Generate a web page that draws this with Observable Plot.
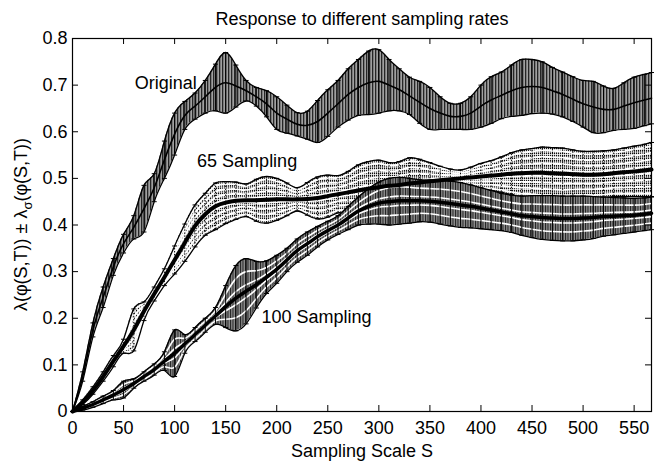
<!DOCTYPE html>
<html><head><meta charset="utf-8">
<script src="https://cdn.jsdelivr.net/npm/d3@7"></script>
<script src="https://cdn.jsdelivr.net/npm/@observablehq/plot@0.6"></script>
<style>
body{margin:0;background:#fff}
svg{font-family:"Liberation Sans",Arial,Helvetica,sans-serif}
</style>
</head><body><div id="chart"></div>
<script>
// Sampling scale S (sample positions)
const xs = [0,10,20,30,40,50,60,70,80,90,100,110,120,130,140,150,160,170,180,190,200,210,220,230,240,250,260,270,280,290,300,310,320,330,340,350,360,370,380,390,400,410,420,430,440,450,460,470,480,490,500,510,520,530,540,550,560,567];

// Original
const origMean = [0,0.075,0.175,0.245,0.31,0.36,0.395,0.435,0.48,0.54,0.595,0.635,0.655,0.675,0.695,0.705,0.698,0.688,0.675,0.66,0.64,0.627,0.616,0.614,0.622,0.64,0.66,0.68,0.695,0.705,0.708,0.70,0.69,0.677,0.663,0.65,0.64,0.633,0.633,0.64,0.655,0.668,0.678,0.688,0.695,0.697,0.695,0.688,0.68,0.67,0.66,0.653,0.648,0.648,0.655,0.662,0.668,0.672];
const origSd = [0,0.01,0.015,0.022,0.018,0.02,0.025,0.05,0.03,0.04,0.045,0.03,0.028,0.035,0.05,0.065,0.045,0.022,0.02,0.028,0.035,0.03,0.025,0.03,0.045,0.05,0.05,0.055,0.06,0.068,0.068,0.055,0.045,0.04,0.045,0.045,0.035,0.028,0.028,0.035,0.045,0.05,0.05,0.055,0.06,0.058,0.055,0.05,0.048,0.048,0.05,0.055,0.05,0.045,0.05,0.055,0.055,0.055];

// 65 Sampling
const s65Mean = [0,0.02,0.045,0.075,0.108,0.14,0.175,0.215,0.252,0.288,0.325,0.362,0.398,0.423,0.44,0.448,0.452,0.453,0.453,0.454,0.455,0.455,0.455,0.456,0.458,0.462,0.466,0.47,0.474,0.478,0.481,0.484,0.486,0.489,0.491,0.494,0.496,0.498,0.50,0.502,0.504,0.506,0.508,0.51,0.511,0.512,0.512,0.511,0.51,0.509,0.508,0.508,0.509,0.511,0.513,0.515,0.517,0.519];
const s65Sd = [0,0.005,0.008,0.01,0.012,0.015,0.045,0.02,0.015,0.018,0.03,0.04,0.045,0.045,0.05,0.045,0.04,0.035,0.045,0.05,0.045,0.035,0.025,0.035,0.045,0.045,0.04,0.045,0.055,0.058,0.058,0.05,0.05,0.055,0.05,0.04,0.03,0.022,0.018,0.022,0.028,0.032,0.038,0.045,0.05,0.052,0.055,0.055,0.055,0.052,0.05,0.05,0.05,0.05,0.052,0.054,0.056,0.058];

// 100 Sampling
const s100Mean = [0,0.007,0.015,0.025,0.035,0.047,0.06,0.075,0.09,0.108,0.125,0.145,0.165,0.185,0.205,0.225,0.243,0.258,0.272,0.288,0.305,0.325,0.345,0.36,0.375,0.388,0.40,0.415,0.43,0.44,0.447,0.45,0.452,0.452,0.452,0.451,0.449,0.446,0.443,0.44,0.436,0.432,0.428,0.424,0.42,0.418,0.416,0.415,0.414,0.414,0.415,0.416,0.418,0.419,0.42,0.421,0.423,0.425];
const s100Sd = [0,0.004,0.006,0.008,0.01,0.018,0.01,0.01,0.012,0.02,0.05,0.02,0.015,0.015,0.018,0.045,0.07,0.07,0.05,0.035,0.03,0.025,0.025,0.025,0.022,0.02,0.02,0.025,0.03,0.038,0.045,0.05,0.05,0.048,0.045,0.045,0.047,0.048,0.048,0.046,0.044,0.042,0.04,0.04,0.042,0.045,0.047,0.048,0.048,0.048,0.047,0.045,0.042,0.04,0.038,0.036,0.035,0.035];

const xTicks = [0,50,100,150,200,250,300,350,400,450,500,550];
const yTicks = [0,0.1,0.2,0.3,0.4,0.5,0.6,0.7,0.8];
const seriesNames = ["Original","65 Sampling","100 Sampling"];
const labelX = [61, 122, 185];
const labelY = [0.705, 0.536, 0.202];
const titleText = "Response to different sampling rates";
const xLabel = "Sampling Scale S";

const W = 660, H = 462, mL = 72, mR = 9, mT = 38, mB = 51;
const frameW = W - mL - mR, frameH = H - mT - mB;

const rows = (name, m, s) => xs.map((x, i) => ({series: name, x, mean: m[i], lo: m[i] - s[i], hi: m[i] + s[i], sd: s[i]}));
const orig = rows(seriesNames[0], origMean, origSd);
const r65 = rows(seriesNames[1], s65Mean, s65Sd);
const r100 = rows(seriesNames[2], s100Mean, s100Sd);
const labels = seriesNames.map((t, i) => ({t, x: labelX[i], y: labelY[i]}));

const stripes = (data, fracs) => fracs.flatMap(f => data.map(d => ({x: d.x, y: d.mean + f * d.sd, f})));
const st65 = stripes(r65, [-0.875,-0.625,-0.375,-0.125,0.125,0.375,0.625,0.875]);
const st100 = stripes(r100, [-0.6,-0.2,0.2,0.6]);

const cap = {draw(ctx, size) { const w = Math.sqrt(size / Math.PI); ctx.moveTo(-w, 0); ctx.lineTo(w, 0); }};
const cur = "natural";

function bandMarks(data, opts) {
  return [
    Plot.areaY(data, {x: "x", y1: "lo", y2: "hi", fill: opts.fill, curve: cur}),
    opts.stripes ? Plot.line(opts.stripes, {x: "x", y: "y", z: "f", stroke: "white", strokeWidth: opts.stripeW, curve: cur}) : null,
    Plot.ruleX(data, {x: "x", y1: "lo", y2: "hi", stroke: "black", strokeWidth: 1, strokeDasharray: opts.dash}),
    Plot.dot(data, {x: "x", y: "hi", symbol: cap, r: 2.5, fill: "none", stroke: "black", strokeWidth: 1}),
    Plot.dot(data, {x: "x", y: "lo", symbol: cap, r: 2.5, fill: "none", stroke: "black", strokeWidth: 1}),
    Plot.line(data, {x: "x", y: "hi", stroke: "black", strokeWidth: 1.3, curve: cur}),
    Plot.line(data, {x: "x", y: "lo", stroke: "black", strokeWidth: 1.3, curve: cur})
  ];
}

const svg = Plot.plot({
  width: W, height: H,
  marginLeft: mL, marginRight: mR, marginTop: mT, marginBottom: mB,
  style: {fontFamily: "'Liberation Sans', Arial, sans-serif", fontSize: "18px", background: "white", color: "black"},
  x: {domain: [0, 567], label: null},
  y: {domain: [0, 0.8], label: null},
  marks: [
    ...bandMarks(orig, {fill: "url(#pOrig)"}),
    ...bandMarks(r65, {fill: "url(#p65)", stripes: st65, stripeW: 1.9, dash: "1.5,1.5"}),
    ...bandMarks(r100, {fill: "url(#p100)", stripes: st100, stripeW: 1.6}),
    Plot.line(orig, {x: "x", y: "mean", stroke: "black", strokeWidth: 1.6, curve: cur}),
    Plot.line(r65, {x: "x", y: "mean", stroke: "black", strokeWidth: 4, curve: cur}),
    Plot.line(r100, {x: "x", y: "mean", stroke: "black", strokeWidth: 3.5, curve: cur}),
    Plot.text(labels, {x: "x", y: "y", text: "t", textAnchor: "start", fontSize: 18, fill: "black"}),
    Plot.frame({stroke: "black", strokeWidth: 1.2}),
    Plot.tickX(xTicks, {x: d => d, insetTop: frameH - 6, stroke: "black"}),
    Plot.tickX(xTicks, {x: d => d, insetBottom: frameH - 6, stroke: "black"}),
    Plot.tickY(yTicks, {y: d => d, insetRight: frameW - 6, stroke: "black"}),
    Plot.tickY(yTicks, {y: d => d, insetLeft: frameW - 6, stroke: "black"}),
    Plot.axisX({ticks: xTicks, tickSize: 0, tickPadding: 10, label: null, fontSize: 18}),
    Plot.axisY({ticks: yTicks, tickSize: 0, tickPadding: 5, label: null, fontSize: 18, tickFormat: d => String(d)}),
    Plot.text([titleText], {frameAnchor: "top", lineAnchor: "middle", dy: -19, fontSize: 18, fill: "black"}),
    Plot.text([xLabel], {frameAnchor: "bottom", lineAnchor: "middle", dy: 40, fontSize: 18, fill: "black"})
  ]
});

const s = d3.select(svg);
const defs = s.insert("defs", ":first-child");
const p1 = defs.append("pattern").attr("id", "pOrig").attr("width", 3).attr("height", 4).attr("patternUnits", "userSpaceOnUse");
p1.append("rect").attr("width", 3).attr("height", 4).attr("fill", "#a0a0a0");
p1.append("rect").attr("width", 1.3).attr("height", 4).attr("fill", "#262626");
const p2 = defs.append("pattern").attr("id", "p65").attr("width", 2).attr("height", 2.5).attr("patternUnits", "userSpaceOnUse");
p2.append("rect").attr("width", 2).attr("height", 2.5).attr("fill", "#fff");
p2.append("rect").attr("width", 1.2).attr("height", 1.8).attr("fill", "#111");
const p3 = defs.append("pattern").attr("id", "p100").attr("width", 2.5).attr("height", 4).attr("patternUnits", "userSpaceOnUse");
p3.append("rect").attr("width", 2.5).attr("height", 4).attr("fill", "#8c8c8c");
p3.append("rect").attr("width", 1).attr("height", 4).attr("fill", "#1e1e1e");

const yl = s.append("text").attr("transform", `translate(27,${mT + frameH / 2}) rotate(-90)`)
  .attr("text-anchor", "middle").attr("font-size", 18).attr("fill", "black");
yl.append("tspan").text("λ(φ(S,T)) ± λ");
yl.append("tspan").attr("dy", 5).attr("font-size", 13).text("σ");
yl.append("tspan").attr("dy", -5).text("(φ(S,T))");

document.getElementById("chart").appendChild(svg);
</script>
</body></html>
